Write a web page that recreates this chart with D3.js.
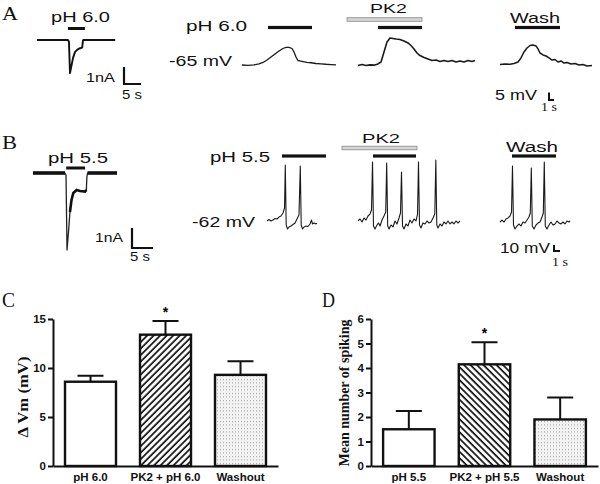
<!DOCTYPE html>
<html><head><meta charset="utf-8">
<script src="https://cdn.jsdelivr.net/npm/d3@7"></script>
<style>body{margin:0;background:#fff}svg{display:block}</style>
</head><body>
<script>
// ---------- DATA ----------
// Panel A, left: whole-cell current (time s, current nA)
const aCurrent = [[0,0],[9.1,0],[9.4,-0.1],[9.7,-1.95],[10.15,-1.5],[10.6,-1.05],[11.2,-0.7],[11.8,-0.58],[12.4,-0.5],[13,-0.47],[13.3,-0.44],[13.5,-0.05],[13.6,0],[23,0]];
const aCurrentStim = [9.1, 14.1];
// Panel B, left
const bCurrent = [[0,0],[7.6,0],[7.86,-0.1],[8.1,-3.85],[8.45,-2.95],[8.8,-1.95],[9.17,-1.35],[9.6,-1.0],[10.4,-0.85],[11.2,-0.9],[12.4,-0.93],[12.7,-0.85],[12.83,-0.2],[13,0],[20,0]];
const bCurrentStim = [7.9, 12.4];

// Panel A, right: membrane potential (time s, mV)
const aVmPH = [[0,-65],[1.2,-65.2],[2.4,-64.9],[3.4,-64.3],[4.2,-63.3],[5.0,-61.7],[5.8,-59.7],[6.6,-57.7],[7.4,-55.7],[8.2,-54],[8.8,-53.3],[9.4,-53.2],[10.0,-54],[10.4,-56.3],[10.8,-59.7],[11.2,-62],[11.6,-62.3],[12.2,-62.7],[13.0,-63.2],[13.8,-63.5],[14.8,-64],[15.8,-64.2],[16.8,-64.5],[17.8,-64.7],[18.8,-64.9]];
const aVmPK2 = [[0,-65.3],[0.8,-64.7],[1.6,-65.3],[2.4,-64.9],[3.2,-65.1],[4.0,-64.3],[4.6,-63],[5.2,-56.3],[5.8,-49.7],[6.4,-47],[7.0,-47.3],[7.6,-47.7],[8.4,-48],[9.2,-49],[10.0,-50.3],[10.6,-52],[11.2,-54.3],[11.8,-57],[12.4,-58.7],[13.2,-60],[14.0,-61],[14.8,-62],[15.6,-61.7],[16.4,-62.7],[17.2,-62],[18.0,-62.7],[18.8,-62],[19.6,-63],[20.4,-62.3],[21.2,-63],[22.0,-62],[22.8,-62.7],[23.4,-62]];
const aVmWash = [[0,-64.7],[1.0,-64.3],[2.0,-64.5],[2.8,-64],[3.6,-63],[4.2,-60.3],[4.8,-56.3],[5.4,-53.7],[6.0,-52],[6.6,-51.7],[7.2,-52.3],[7.6,-54.3],[8.0,-57],[8.6,-58.3],[9.2,-59],[9.8,-60.3],[10.4,-61.7],[11.0,-61.3],[11.6,-63],[12.2,-62.3],[12.8,-63.7],[13.4,-63.3],[14.2,-64.3],[15.0,-64],[15.8,-65],[16.6,-64.7],[17.4,-65.7],[18.4,-65.3]];
const aStimPH = [5.2, 14.0];
const aStimPK2Drug = [-2.2, 12.8];
const aStimPK2 = [4.0, 12.8];
const aStimWash = [3.0, 12.0];

// Panel B, right: membrane potential with spikes (time s, mV)
const bVmPH = [[0,-60.3],[0.33,-57.8],[0.67,-60.3],[1.0,-58.7],[1.33,-56.2],[1.67,-57],[2.0,-53.7],[2.33,-52],[2.67,-47],[2.92,-38.7],[3.05,33],[3.2,-67],[3.42,-73.7],[3.67,-70.3],[4.0,-68.7],[4.33,-66.2],[4.67,-63.7],[5.0,-57],[5.33,-50.3],[5.55,31.3],[5.7,-67],[5.92,-73.7],[6.17,-70.3],[6.5,-68.7],[6.83,-69.5],[7.17,-65.3],[7.42,-58.7],[7.58,-65.3],[7.83,-63.7],[8.17,-65.3],[8.33,-63.7]];
const bVmPK2 = [[0,-60.3],[0.33,-57],[0.67,-62],[1.0,-55.3],[1.33,-58.7],[1.67,-52],[2.0,-48.7],[2.25,-42],[2.42,38],[2.58,-68.7],[2.83,-73.7],[3.17,-67],[3.42,-63.7],[3.67,-68.7],[4.0,-58.7],[4.33,-52],[4.62,-45.3],[4.78,36.3],[4.95,-68.7],[5.17,-73.7],[5.5,-67],[5.83,-70.3],[6.17,-60.3],[6.5,-65.3],[6.83,-55.3],[7.08,-47],[7.25,21.3],[7.42,-68.7],[7.67,-73.7],[8.0,-65.3],[8.33,-68.7],[8.67,-58.7],[9.0,-63.7],[9.33,-57],[9.67,-60.3],[9.92,-48.7],[10.08,38],[10.25,-67],[10.5,-72],[10.83,-63.7],[11.17,-65.3],[11.5,-60.3],[11.83,-63.7],[12.17,-62],[12.5,-55.3],[12.8,-48.7],[12.97,41.3],[13.13,-67],[13.33,-72],[13.67,-65.3],[14.0,-68.7],[14.33,-62],[14.67,-65.3],[15.0,-60.3],[15.33,-65.3],[15.67,-62],[16.0,-65.3],[16.33,-60.3],[16.67,-63.7],[17.0,-60.3]];
const bVmWash = [[0,-62],[0.33,-58.7],[0.67,-62],[1.0,-57],[1.33,-55.3],[1.67,-52],[1.92,-45.3],[2.08,31.3],[2.25,-67],[2.5,-73.7],[2.83,-68.7],[3.17,-65.3],[3.5,-68.7],[3.83,-62],[4.17,-63.7],[4.5,-58.7],[4.83,-53.7],[5.05,-47],[5.22,28],[5.38,-68.7],[5.67,-73.7],[6.0,-67],[6.33,-63.7],[6.67,-62],[7.0,-53.7],[7.22,-47],[7.38,38],[7.55,-68.7],[7.83,-73.7],[8.17,-67],[8.5,-62],[8.83,-67],[9.17,-65.3],[9.5,-60.3],[9.83,-63.7],[10.17,-65.3],[10.5,-62],[10.83,-65.3],[11.17,-60.3],[11.5,-62],[11.67,-60.3]];
const bStimPH = [2.5, 9.83];
const bStimPK2Drug = [-2.67, 9.83];
const bStimPK2 = [2.5, 9.67];
const bStimWash = [2.0, 9.33];

// Panel C
const categoriesC = ["pH 6.0", "PK2 + pH 6.0", "Washout"];
const meansC = [8.6, 13.4, 9.3];
const semC = [0.6, 1.4, 1.4];
const ticksC = [0, 5, 10, 15];
// Panel D
const categoriesD = ["pH 5.5", "PK2 + pH 5.5", "Washout"];
const meansD = [1.5, 4.15, 1.9];
const semD = [0.75, 0.9, 0.9];
const ticksD = [0, 1, 2, 3, 4, 5, 6];
const significant = [false, true, false];

// ---------- DRAWING ----------
const SANS = "'Liberation Sans', Arial, sans-serif";
const SERIF = "'Liberation Serif', 'Times New Roman', serif";
const svg = d3.select("body").append("svg").attr("width", 600).attr("height", 484);

const defs = svg.append("defs");
function hatch(id, angle) {
  const p = defs.append("pattern").attr("id", id).attr("patternUnits", "userSpaceOnUse")
    .attr("width", 4.6).attr("height", 4.6).attr("patternTransform", `rotate(${angle})`);
  p.append("rect").attr("width", 4.6).attr("height", 4.6).attr("fill", "#fff");
  p.append("line").attr("x1", 1).attr("x2", 1).attr("y1", -1).attr("y2", 6).attr("stroke", "#111").attr("stroke-width", 1.7);
}
hatch("hatchC", 45);
hatch("hatchD", -45);
const dots = defs.append("pattern").attr("id", "dots").attr("patternUnits", "userSpaceOnUse").attr("width", 3).attr("height", 3.5);
dots.append("rect").attr("width", 3).attr("height", 3.5).attr("fill", "#f3f3f3");
dots.append("rect").attr("x", 1).attr("y", 1).attr("width", 1).attr("height", 1).attr("fill", "#9a9a9a");

function txt(s, x0, x1, base, size, family, weight) {
  const t = svg.append("text").attr("x", x0).attr("y", base).text(s)
    .attr("font-family", family || SANS).attr("font-size", size).attr("fill", "#111");
  if (weight) t.attr("font-weight", weight);
  if (x1 != null) t.attr("textLength", x1 - x0).attr("lengthAdjust", "spacingAndGlyphs");
  return t;
}

function trace(data, x0, pps, y, width, color) {
  const x = d3.scaleLinear().domain([0, 1]).range([x0, x0 + pps]);
  svg.append("path").datum(data)
    .attr("d", d3.line().x(d => x(d[0])).y(d => y(d[1])))
    .attr("fill", "none").attr("stroke", color || "#1a1a1a").attr("stroke-width", width)
    .attr("stroke-linejoin", "round");
  return x;
}
function stim(x, range, yPix, h) {
  svg.append("rect").attr("x", x(range[0])).attr("width", x(range[1]) - x(range[0]))
    .attr("y", yPix - h / 2).attr("height", h).attr("fill", "#111");
}
function drugBar(x, range, yPix) {
  svg.append("rect").attr("x", x(range[0])).attr("width", x(range[1]) - x(range[0]))
    .attr("y", yPix - 1.8).attr("height", 3.6).attr("fill", "#d4d4d4").attr("stroke", "#8a8a8a").attr("stroke-width", 0.8);
}
function scaleL(cx, cy, vLen, hLen, w) {
  svg.append("path").attr("d", `M${cx},${cy - vLen}V${cy}H${cx + hLen}`)
    .attr("fill", "none").attr("stroke", "#111").attr("stroke-width", w);
}

// ----- Panel A -----
txt("A", 2, 18, 20, 18, SERIF);
const yIA = d3.scaleLinear().domain([0, -1]).range([40, 57]);
const xIA = trace(aCurrent, 37, 3.4, yIA, 1.9, "#111");
stim(xIA, aCurrentStim, 28.5, 3);
txt("pH 6.0", 51, 110, 22, 15);
txt("1nA", 86, 115, 82, 13.5);
txt("5 s", 122, 142, 99, 13.5);
scaleL(124, 84, yIA(-1) - yIA(0), xIA(5) - xIA(0), 2.2);

const yVA = d3.scaleLinear().domain([-65, -55]).range([65, 50]);
const xA1 = trace(aVmPH, 242, 5, yVA, 1.3);
const xA2 = trace(aVmPK2, 358, 5, yVA, 1.6);
const xA3 = trace(aVmWash, 500, 5, yVA, 1.5);
stim(xA1, aStimPH, 27.5, 3.2);
drugBar(xA2, aStimPK2Drug, 19.5);
stim(xA2, aStimPK2, 27.5, 3.2);
stim(xA3, aStimWash, 27.5, 3.2);
txt("pH 6.0", 186, 247, 30.5, 15.5);
txt("-65 mV", 169, 232, 66, 15);
txt("PK2", 370, 407, 13, 13.5);
txt("Wash", 510, 560, 23, 15.5);
txt("5 mV", 495, 537, 100, 14.5);
scaleL(549, 100, yVA(-65) - yVA(-60), xA3(1) - xA3(0), 2);
txt("1 s", 541, 557, 111, 13, SERIF);

// ----- Panel B -----
txt("B", 2, 17, 149, 18, SERIF);
const yIB = d3.scaleLinear().domain([0, -1]).range([173, 193]);
const xIB = trace(bCurrent, 33, 4.2, yIB, 1.3, "#222");
svg.append("path").datum(bCurrent.slice(0, 2)).attr("d", d3.line().x(d => xIB(d[0])).y(d => yIB(d[1])))
  .attr("stroke", "#111").attr("stroke-width", 3.6);
svg.append("path").datum(bCurrent.slice(-2)).attr("d", d3.line().x(d => xIB(d[0])).y(d => yIB(d[1])))
  .attr("stroke", "#111").attr("stroke-width", 3.6);
svg.append("path").datum(bCurrent.slice(5, 12)).attr("d", d3.line().x(d => xIB(d[0])).y(d => yIB(d[1])))
  .attr("fill", "none").attr("stroke", "#111").attr("stroke-width", 2.6);
stim(xIB, bCurrentStim, 168, 3);
txt("pH 5.5", 48, 108, 163, 15);
txt("1nA", 95, 123, 242, 13.5);
txt("5 s", 130, 150, 261, 13.5);
scaleL(132, 248, yIB(-1) - yIB(0), xIB(5) - xIB(0), 2.2);

const yVB = d3.scaleLinear().domain([-62, -52]).range([222, 216]);
const xB1 = trace(bVmPH, 267, 6, yVB, 1.1);
const xB2 = trace(bVmPK2, 358, 6, yVB, 1.1);
const xB3 = trace(bVmWash, 500, 6, yVB, 1.1);
stim(xB1, bStimPH, 156, 3.2);
drugBar(xB2, bStimPK2Drug, 148);
stim(xB2, bStimPK2, 156, 3.2);
stim(xB3, bStimWash, 156, 3.2);
txt("pH 5.5", 210, 270, 162, 15.5);
txt("-62 mV", 192, 255, 227, 15);
txt("PK2", 362, 400, 143, 13.5);
txt("Wash", 506, 558, 152, 15.5);
txt("10 mV", 500, 550, 253, 14.5);
scaleL(554, 251, yVB(-62) - yVB(-52), xB3(1) - xB3(0), 2);
txt("1 s", 552, 568, 266, 13, SERIF);

// ----- Bar charts -----
function barChart(opts) {
  const { cats, means, sem, ticks, max, left, right, fillId, label, labelX, labelY, labelLen, letter, letterX } = opts;
  const y = d3.scaleLinear().domain([0, max]).range([466, 319]);
  const x = d3.scaleBand().domain(cats).range([left, right]).paddingInner(0.32).paddingOuter(0.16);
  const g = svg.append("g");
  const fills = ["#fff", `url(#${fillId})`, "url(#dots)"];
  g.selectAll("rect.bar").data(cats).join("rect").attr("class", "bar")
    .attr("x", c => x(c)).attr("width", x.bandwidth())
    .attr("y", (c, i) => y(means[i])).attr("height", (c, i) => y(0) - y(means[i]))
    .attr("fill", (c, i) => fills[i]).attr("stroke", "#111").attr("stroke-width", 2.4);
  g.selectAll("path.err").data(cats).join("path").attr("class", "err")
    .attr("d", (c, i) => {
      const cx = x(c) + x.bandwidth() / 2;
      return `M${cx},${y(means[i])}V${y(means[i] + sem[i])}M${cx - 13},${y(means[i] + sem[i])}H${cx + 13}`;
    })
    .attr("fill", "none").attr("stroke", "#111").attr("stroke-width", 2);
  g.selectAll("text.star").data(cats.filter((c, i) => significant[i])).join("text").attr("class", "star")
    .attr("x", c => x(c) + x.bandwidth() / 2)
    .attr("y", c => { const i = cats.indexOf(c); return y(means[i] + sem[i]) - 4; })
    .attr("text-anchor", "middle").attr("font-family", SANS).attr("font-weight", "bold").attr("font-size", 14).text("*");
  const ya = g.append("g").attr("transform", `translate(${left},0)`)
    .call(d3.axisLeft(y).tickValues(ticks).tickFormat(d3.format("d")).tickSize(5).tickPadding(2).tickSizeOuter(0));
  const xa = g.append("g").attr("transform", "translate(0,466)")
    .call(d3.axisBottom(x).tickSize(0).tickPadding(7).tickSizeOuter(0));
  [ya, xa].forEach(a => {
    a.selectAll("path,line").attr("stroke", "#111").attr("stroke-width", 2);
    a.selectAll("text").attr("font-family", SANS).attr("font-weight", "bold").attr("font-size", 11.5).attr("fill", "#111");
  });
  svg.append("text").attr("transform", `translate(${labelX},${labelY}) rotate(-90)`)
    .attr("text-anchor", "middle").attr("font-family", SERIF).attr("font-weight", "bold")
    .attr("font-size", 15).attr("textLength", labelLen).attr("lengthAdjust", "spacingAndGlyphs")
    .attr("fill", "#111").text(label);
  txt(letter, letterX, letterX + 13, 307, 20, SERIF);
}
barChart({ cats: categoriesC, means: meansC, sem: semC, ticks: ticksC, max: 15, left: 53, right: 278,
  fillId: "hatchC", label: "\u0394 Vm (mV)", labelX: 28, labelY: 397, labelLen: 81, letter: "C", letterX: 2 });
barChart({ cats: categoriesD, means: meansD, sem: semD, ticks: ticksD, max: 6, left: 371, right: 598,
  fillId: "hatchD", label: "Mean number of spiking", labelX: 348.5, labelY: 393, labelLen: 147, letter: "D", letterX: 322 });
</script>
</body></html>
